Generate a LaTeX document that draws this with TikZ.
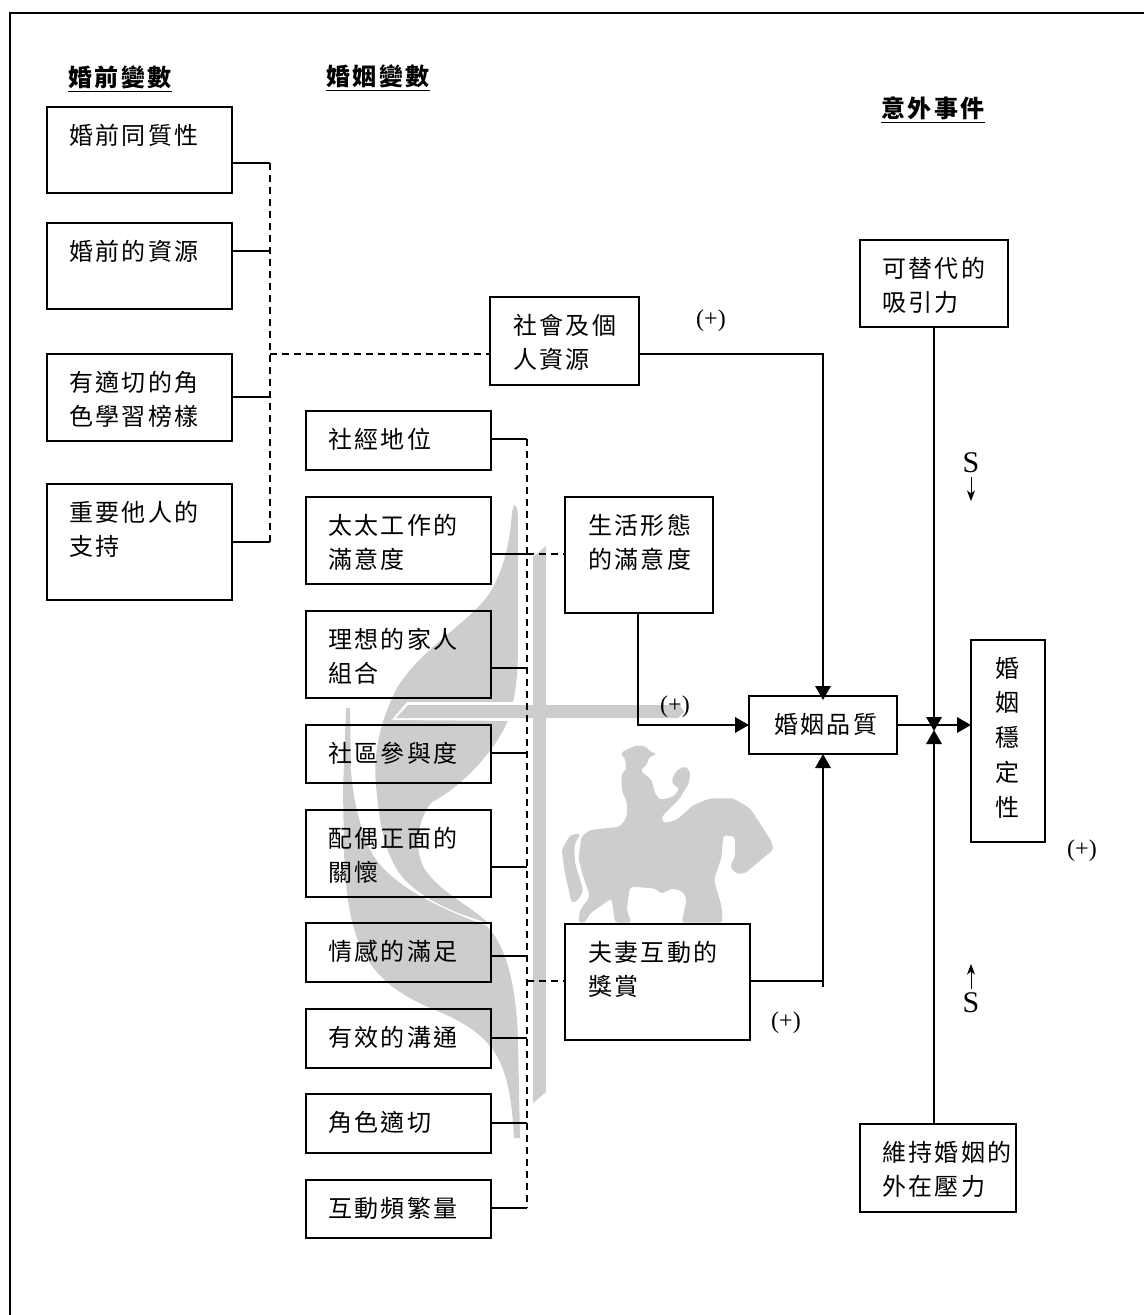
\documentclass[tikz,border=0pt]{standalone}
\usepackage{fontspec}
\usetikzlibrary{arrows.meta,calc}
\setmainfont{Liberation Serif}
\newfontfamily\cjk[LetterSpace=10]{Noto Sans CJK TC}
\newdimen\pxu \pxu=0.75pt
\definecolor{wm}{HTML}{CDCDCD}
\tikzset{
  boxst/.style={draw=black,line width=1.9pt,inner sep=0pt,outer sep=0pt,anchor=north west,font=\cjk},
  conn/.style={draw=black,line width=1.7pt},
  dashconn/.style={conn,dash pattern=on 5.25pt off 3.75pt},
  arrowconn/.style={conn,-{Triangle[width=11.5pt,length=10.5pt]}},
  thinarrow/.style={draw=black,line width=0.6pt,-{Stealth[width=6pt,length=8pt,inset=2.5pt]}},
  plus/.style={font=\fontsize{18}{20}\selectfont,inner sep=0pt},
  ess/.style={font=\fontsize{22.5}{26}\selectfont,inner sep=0pt},
  head/.style={inner sep=0pt},
  frameln/.style={draw=black,line width=2.2pt}
}
% name, x, y, w, h, inset, line pitch, text
\newcommand{\bx}[8]{%
  \node[boxst,minimum width=#4\pxu,minimum height=#5\pxu] (#1) at (#2,#3)
   {\parbox[c][#5\pxu][t]{#4\pxu}{\fontsize{18}{#7}\selectfont\leftskip=#6\pxu\rightskip=-40pt\rule{0pt}{37\pxu}#8}};}
\begin{document}
\begin{tikzpicture}[x=0.75pt,y=-0.75pt]
\useasboundingbox (0,0) rectangle (1144,1315);
% frame
\draw[frameln] (10,1315) -- (10,13) -- (1144,13);
% watermark: flames
\fill[wm] (514,505) .. controls (518,505) and (518,515) .. (518,530)
  -- (518,640) .. controls (518,670) and (517,690) .. (510,715)
  .. controls (500,745) and (465,785) .. (432,802)
  .. controls (420,815) and (412,845) .. (424,868)
  .. controls (440,893) and (470,905) .. (488,923)
  .. controls (465,916) and (430,905) .. (405,880)
  .. controls (388,862) and (380,830) .. (377,795)
  .. controls (372,760) and (378,725) .. (397,688)
  .. controls (420,650) and (465,625) .. (487,597)
  .. controls (505,570) and (510,540) .. (512,512) -- cycle;
\fill[wm] (346,708) -- (350,708) -- (351,770)
  .. controls (353,800) and (360,830) .. (373,855)
  .. controls (395,890) and (450,912) .. (487,926)
  .. controls (505,945) and (516,980) .. (518,1040)
  -- (520,1138) -- (514,1138)
  .. controls (512,1100) and (508,1080) .. (500,1062)
  .. controls (490,1040) and (470,1025) .. (440,1012)
  .. controls (410,1000) and (380,985) .. (362,950)
  .. controls (350,925) and (345,890) .. (344,850) -- (343,790) -- cycle;
% watermark: cross
\fill[white] (392,720) -- (407,702) -- (520,702) -- (520,721) -- cycle;
\fill[wm] (533,557) -- (546,546) -- (546,705) -- (680,705) -- (684,712) -- (678,718)
  -- (546,718) -- (546,1092) -- (533,1103) -- (533,718) -- (396,718) -- (408,705) -- (533,705) -- cycle;
% watermark: rider
\begin{scope}[shift={(540,730)},x=0.25pt,y=-0.25pt]
\fill[wm,rounded corners=2.5pt] (125,318) -- (150,300) -- (240,290) -- (260,262) -- (262,220) -- (245,180) -- (245,130)
  -- (260,118) -- (255,85) -- (240,70) -- (262,58) -- (290,45) -- (320,50) -- (330,65) -- (352,72) -- (325,82)
  -- (322,105) -- (300,120) -- (335,150) -- (345,190) -- (360,210) -- (400,200) -- (420,175) -- (400,165)
  -- (395,150) -- (410,120) -- (438,108) -- (452,130) -- (445,165) -- (430,185) -- (420,205) -- (385,240)
  -- (365,260) -- (370,280) -- (410,270) -- (460,225) -- (510,205) -- (580,205) -- (630,235) -- (660,280)
  -- (695,335) -- (700,360) -- (680,375) -- (615,430) -- (590,432) -- (570,410) -- (585,380) -- (585,320)
  -- (550,315) -- (545,380) -- (522,450) -- (545,530) -- (548,578) -- (425,578) -- (440,510) -- (430,485)
  -- (395,475) -- (365,492) -- (345,475) -- (270,470) -- (260,540) -- (275,578) -- (225,578) -- (215,505)
  -- (150,550) -- (135,578) -- (115,578) -- (120,540) -- (150,500) -- (130,440) -- (115,385) -- cycle;
\fill[wm,rounded corners=2.5pt] (122,310) -- (90,315) -- (65,360) -- (75,430) -- (95,520) -- (115,510) -- (130,480)
  -- (105,400) -- (103,345) -- cycle;
\end{scope}
% headings
\node[head,font=\cjk\bfseries\fontsize{18}{22}\selectfont] (h1) at (120,79) {\underline{婚前變數}};
\node[head,font=\cjk\bfseries\fontsize{18}{22}\selectfont] (h2) at (378,78) {\underline{婚姻變數}};
\node[head,font=\cjk\bfseries\fontsize{18}{22}\selectfont] (h3) at (933,110) {\underline{意外事件}};
% left column
\bx{a1}{47}{107}{185}{86}{22}{25.5}{婚前同質性}
\bx{a2}{47}{223}{185}{86}{22}{25.5}{婚前的資源}
\bx{a3}{47}{354}{185}{87}{22}{25.5}{有適切的角\\色學習榜樣}
\bx{a4}{47}{484}{185}{116}{22}{25.5}{重要他人的\\支持}
% middle column
\bx{m1}{306}{411}{185}{59}{22}{25.5}{社經地位}
\bx{m2}{306}{497}{185}{87}{22}{25.5}{太太工作的\\滿意度}
\bx{m3}{306}{611}{185}{87}{22}{25.5}{理想的家人\\組合}
\bx{m4}{306}{725}{185}{58}{22}{25.5}{社區參與度}
\bx{m5}{306}{810}{185}{87}{22}{25.5}{配偶正面的\\關懷}
\bx{m6}{306}{923}{185}{59}{22}{25.5}{情感的滿足}
\bx{m7}{306}{1009}{185}{59}{22}{25.5}{有效的溝通}
\bx{m8}{306}{1094}{185}{59}{22}{25.5}{角色適切}
\bx{m9}{306}{1180}{185}{58}{22}{25.5}{互動頻繁量}
% centre boxes
\bx{res}{490}{297}{149}{88}{23}{25.5}{社會及個\\人資源}
\bx{life}{565}{497}{148}{116}{23}{25.5}{生活形態\\的滿意度}
\bx{rew}{565}{924}{185}{116}{23}{25.5}{夫妻互動的\\獎賞}
\bx{qual}{749}{696}{148}{58}{25}{25.5}{婚姻品質}
\bx{stab}{971}{640}{74}{202}{24}{26.2}{婚\\姻\\穩\\定\\性}
\bx{alt}{860}{240}{148}{87}{22}{25.5}{可替代的\\吸引力}
\bx{ext}{860}{1124}{156}{88}{22}{25.5}{維持婚姻的\\外在壓力}
% junction coordinates
\coordinate (ja1) at (270,163);
\coordinate (ja2) at (270,251);
\coordinate (ja3) at (270,397);
\coordinate (ja4) at (270,542);
\coordinate (jres) at (270,354);
\coordinate (jm1) at (527,439);
\coordinate (jm2) at (527,554);
\coordinate (jm3) at (527,668);
\coordinate (jm4) at (527,753);
\coordinate (jm5) at (527,867);
\coordinate (jm6) at (527,956);
\coordinate (jm7) at (527,1038);
\coordinate (jm8) at (527,1123);
\coordinate (jm9) at (527,1208);
\coordinate (jrew) at (527,981);
\coordinate (cres) at (823,354);
\coordinate (clife) at (638,725);
\coordinate (crew) at (823,981);
\coordinate (crewend) at (823,987);
\coordinate (tipa) at (934,731);
\coordinate (tipb) at (934,730);
% left bracket
\draw[conn] (a1.east |- ja1) -- (ja1);
\draw[conn] (a2.east |- ja2) -- (ja2);
\draw[conn] (a3.east |- ja3) -- (ja3);
\draw[conn] (a4.east |- ja4) -- (ja4);
\draw[dashconn] (ja1) -- (ja4);
\draw[dashconn] (jres) -- (res.west |- jres);
% middle bracket
\foreach \i in {1,...,9}{\draw[conn] (m\i.east |- jm\i) -- (jm\i);}
\draw[dashconn] (jm1) -- (jm9);
\draw[dashconn] (jm2) -- (life.west |- jm2);
\draw[dashconn] (jrew) -- (rew.west |- jrew);
% to quality
\draw[arrowconn,shorten >=-3pt] (res.east |- cres) -- (cres) -- (qual.north -| cres);
\draw[arrowconn] (life.south -| clife) -- (clife) -- (qual.west |- clife);
\draw[conn] (rew.east |- crew) -- (crew);
\draw[arrowconn] (crewend) -- (qual.south -| crewend);
% to stability
\draw[arrowconn] (qual.east |- 0,725) -- (stab.west |- 0,725);
\draw[arrowconn] (alt.south -| tipa) -- (tipa);
\draw[arrowconn] (ext.north -| tipb) -- (tipb);
% labels
\node[plus] (p1) at (711,321) {(+)};
\node[plus] (p2) at (675,707) {(+)};
\node[plus] (p3) at (786,1023) {(+)};
\node[plus] (p4) at (1082,851) {(+)};
\node[ess] (s1) at (971,463) {S};
\node[ess] (s2) at (971,1003) {S};
\coordinate (s1a) at (971,501);
\coordinate (s2a) at (971,964);
\draw[thinarrow] (s1) ++(0,14) -- (s1a);
\draw[thinarrow] (s2) ++(0,-14) -- (s2a);
\end{tikzpicture}
\end{document}
